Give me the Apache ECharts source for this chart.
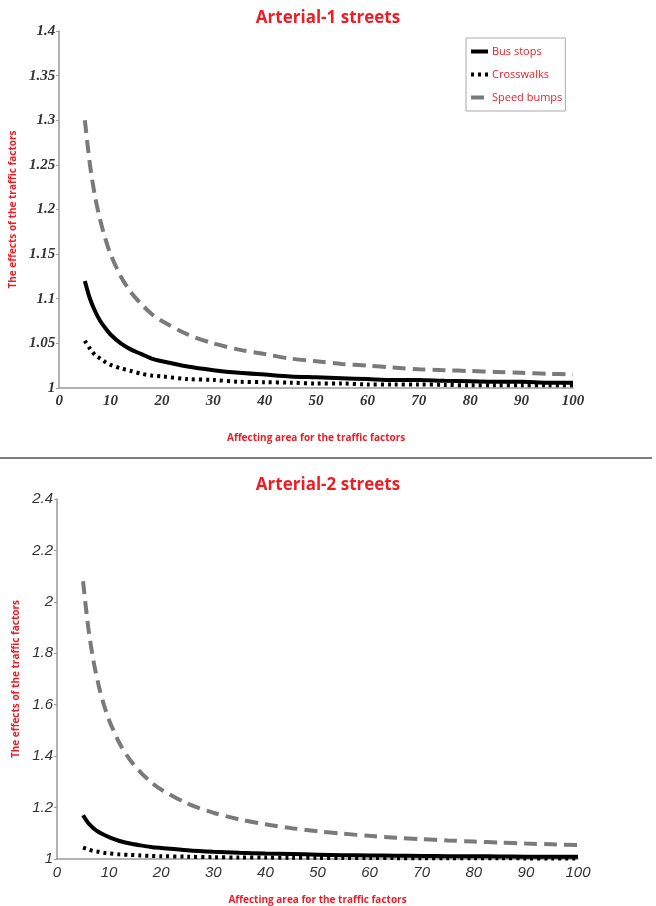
<!DOCTYPE html>
<html>
<head>
<meta charset="utf-8">
<script src="https://cdn.jsdelivr.net/npm/echarts@6/dist/echarts.min.js"></script>
<style>
html,body{margin:0;padding:0;background:#fff;}
#c{width:656px;height:906px;}
</style>
</head>
<body>
<div id="c"></div>
<script>
// Shared x values (affecting area)
var xVals = [5,6,7,8,9,10,12,14,16,18,20,25,30,35,40,45,50,55,60,65,70,75,80,85,90,95,100];

// Arterial-1 streets
var a1Bus = [1.120,1.100,1.086,1.075,1.067,1.060,1.050,1.043,1.038,1.033,1.030,1.024,1.020,1.017,1.015,1.013,1.012,1.011,1.010,1.009,1.009,1.008,1.0075,1.007,1.007,1.006,1.006];
var a1Cross = [1.053,1.044,1.037,1.033,1.029,1.026,1.022,1.019,1.016,1.014,1.013,1.010,1.009,1.007,1.0065,1.006,1.005,1.005,1.004,1.004,1.004,1.0035,1.003,1.003,1.003,1.003,1.003];
var a1Speed = [1.300,1.250,1.214,1.188,1.167,1.150,1.125,1.107,1.094,1.083,1.075,1.060,1.050,1.043,1.038,1.033,1.030,1.027,1.025,1.023,1.021,1.020,1.019,1.018,1.017,1.016,1.015];

// Arterial-2 streets
var a2Bus = [1.170,1.140,1.120,1.105,1.094,1.085,1.070,1.060,1.053,1.047,1.043,1.034,1.028,1.024,1.021,1.019,1.017,1.015,1.014,1.013,1.012,1.011,1.011,1.010,1.009,1.009,1.009];
var a2Cross = [1.044,1.037,1.031,1.028,1.024,1.022,1.018,1.016,1.014,1.012,1.011,1.009,1.007,1.006,1.0055,1.005,1.0044,1.004,1.0037,1.0034,1.0031,1.003,1.0028,1.0026,1.0024,1.0023,1.0022];
var a2Speed = [2.080,1.900,1.770,1.675,1.600,1.540,1.450,1.386,1.338,1.300,1.270,1.216,1.180,1.154,1.135,1.120,1.108,1.098,1.090,1.083,1.077,1.072,1.068,1.064,1.060,1.057,1.054];

var seriesNames = ['Bus stops','Crosswalks','Speed bumps'];
var titles = ['Arterial-1 streets','Arterial-2 streets'];
var xName = 'Affecting area for the traffic factors';
var yName = 'The effects of the traffic factors';

function pts(ys){ return xVals.map(function(x,i){ return [x, ys[i]]; }); }

var red = '#ee1c25';
var styles = [
  {color:'#000', width:4, type:'solid'},
  {color:'#000', width:4, type:[3,4]},
  {color:'#7a7a7a', width:4, type:[13,7]}
];

function mkSeries(idx, arrs){
  return arrs.map(function(a,i){
    return {
      name: seriesNames[i], type:'line', xAxisIndex: idx, yAxisIndex: idx,
      data: pts(a), smooth: 0.3, symbol:'none', showSymbol:false,
      lineStyle: {color: styles[i].color, width: styles[i].width, type: styles[i].type, cap:'butt'},
      itemStyle: {color: styles[i].color},
      silent: true, animation: false, z: 3 - i
    };
  });
}

var chart = echarts.init(document.getElementById('c'), null, {renderer:'canvas'});

var topLabel = {fontFamily:'Liberation Serif', fontStyle:'italic', fontWeight:'bold', fontSize:15, color:'#333'};
var botLabel = {fontFamily:'Liberation Sans', fontStyle:'italic', fontSize:15, color:'#333'};
var axisLine = {show:true, lineStyle:{color:'#999', width:1.5}};

chart.setOption({
  animation: false,
  backgroundColor: '#fff',
  title: [
    {text: titles[0], left: 'center', top: 5, textStyle:{color:red, fontFamily:'Open Sans', fontWeight:'bold', fontSize:17}},
    {text: titles[1], left: 'center', top: 472, textStyle:{color:red, fontFamily:'Open Sans', fontWeight:'bold', fontSize:17}}
  ],
  legend: {
    data: seriesNames, orient:'vertical', left: 466, top: 38,
    padding:[8,3,8,3], itemGap: 12, itemWidth: 17, itemHeight: 12,
    borderColor:'#aaa', borderWidth:1,
    itemStyle:{opacity:0},
    lineStyle:{width:4},
    textStyle:{color:red, fontFamily:'Open Sans', fontSize:11, padding:[0,0,0,-1]},
    selectedMode:false
  },
  grid: [
    {left:59, right:83, top:31, bottom:518},
    {left:57, right:78, top:499, bottom:45}
  ],
  xAxis: [
    {gridIndex:0, type:'value', min:0, max:100, interval:10,
     name: xName, nameLocation:'middle', nameGap:45,
     nameTextStyle:{color:red, fontFamily:'Open Sans', fontWeight:'bold', fontSize:10},
     axisLine: axisLine, axisTick:{show:false}, splitLine:{show:false},
     axisLabel: Object.assign({margin:6}, topLabel)},
    {gridIndex:1, type:'value', min:0, max:100, interval:10,
     name: xName, nameLocation:'middle', nameGap:36,
     nameTextStyle:{color:red, fontFamily:'Open Sans', fontWeight:'bold', fontSize:10},
     axisLine: axisLine, axisTick:{show:false}, splitLine:{show:false},
     axisLabel: Object.assign({margin:6}, botLabel)}
  ],
  yAxis: [
    {gridIndex:0, type:'value', min:1, max:1.4, interval:0.05,
     name: yName, nameLocation:'middle', nameGap:41,
     nameTextStyle:{color:red, fontFamily:'Open Sans', fontWeight:'bold', fontSize:10},
     axisLine: axisLine, axisTick:{show:true, length:3, lineStyle:{color:'#999'}}, splitLine:{show:false},
     axisLabel: Object.assign({margin:4, formatter:function(v){return String(+v.toFixed(2));}}, topLabel)},
    {gridIndex:1, type:'value', min:1, max:2.4, interval:0.2,
     name: yName, nameLocation:'middle', nameGap:34,
     nameTextStyle:{color:red, fontFamily:'Open Sans', fontWeight:'bold', fontSize:10},
     axisLine: axisLine, axisTick:{show:true, length:3, lineStyle:{color:'#999'}}, splitLine:{show:false},
     axisLabel: Object.assign({margin:4, formatter:function(v){return String(+v.toFixed(1));}}, botLabel)}
  ],
  graphic: [
    {type:'line', shape:{x1:0, y1:458, x2:652, y2:458}, style:{stroke:'#000', lineWidth:1}}
  ],
  series: mkSeries(0, [a1Bus, a1Cross, a1Speed]).concat(mkSeries(1, [a2Bus, a2Cross, a2Speed]))
});
</script>
</body>
</html>
